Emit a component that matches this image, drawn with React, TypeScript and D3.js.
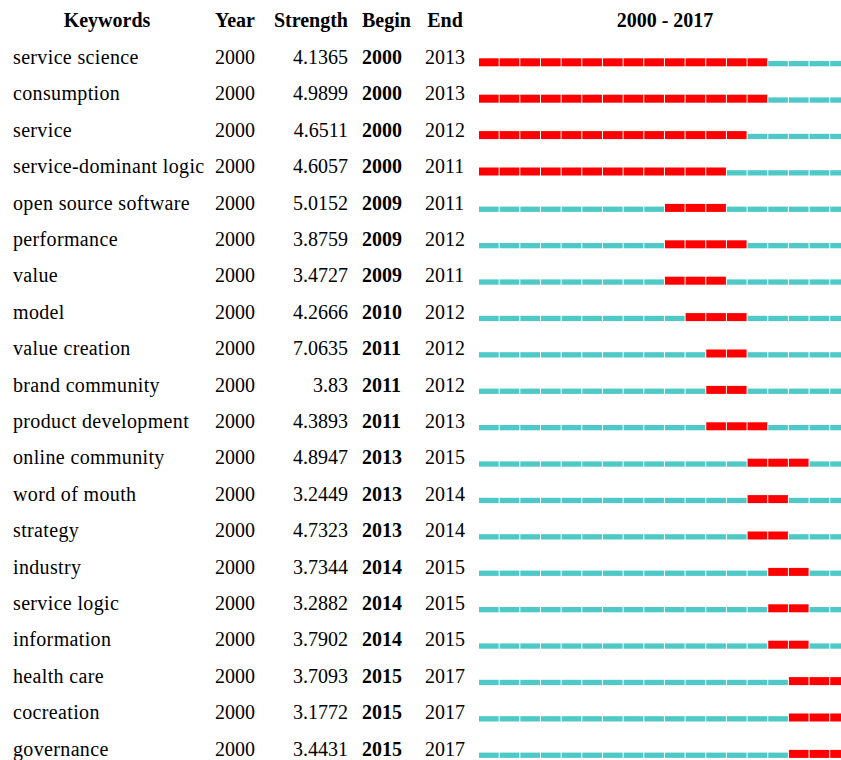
import * as d3 from 'd3';

const keywords = [
  'service science', 'consumption', 'service', 'service-dominant logic',
  'open source software', 'performance', 'value', 'model', 'value creation',
  'brand community', 'product development', 'online community', 'word of mouth',
  'strategy', 'industry', 'service logic', 'information', 'health care',
  'cocreation', 'governance',
];
const years = [
  2000, 2000, 2000, 2000, 2000, 2000, 2000, 2000, 2000, 2000,
  2000, 2000, 2000, 2000, 2000, 2000, 2000, 2000, 2000, 2000,
];
const strengths = [
  '4.1365', '4.9899', '4.6511', '4.6057', '5.0152', '3.8759', '3.4727', '4.2666',
  '7.0635', '3.83', '4.3893', '4.8947', '3.2449', '4.7323', '3.7344', '3.2882',
  '3.7902', '3.7093', '3.1772', '3.4431',
];
const begins = [
  2000, 2000, 2000, 2000, 2009, 2009, 2009, 2010, 2011, 2011,
  2011, 2013, 2013, 2013, 2014, 2014, 2014, 2015, 2015, 2015,
];
const ends = [
  2013, 2013, 2012, 2011, 2011, 2012, 2011, 2012, 2012, 2012,
  2013, 2015, 2014, 2014, 2015, 2015, 2015, 2017, 2017, 2017,
];
const timeline = d3.range(2000, 2018);

const W = 841;
const H = 760;
const FONT = '"Liberation Serif", "Times New Roman", serif';

const App = () => {
  const x = d3.scaleLinear().domain([2000, 2018]).range([478.5, 478.5 + 18 * 20.66]);
  const y = d3.scaleLinear().domain([0, keywords.length - 1]).range([64, 755.6]);

  return (
    <svg
      width={W}
      height={H}
      style={{ position: 'absolute', left: 0, top: 0, background: '#fff' }}
      fontFamily={FONT}
      fontSize={20}
    >
      {/* header */}
      <g fontWeight='bold' fill='#000'>
        <text x={107} y={27} textAnchor='middle'>Keywords</text>
        <text x={215} y={27}>Year</text>
        <text x={348} y={27} textAnchor='end'>Strength</text>
        <text x={362} y={27}>Begin</text>
        <text x={445} y={27} textAnchor='middle'>End</text>
        <text x={665} y={27} textAnchor='middle'>2000 - 2017</text>
      </g>

      {keywords.map((k, i) => {
        const by = y(i);
        return (
          <g key={k}>
            <text x={13} y={by} letterSpacing={0.35}>{k}</text>
            <text x={215} y={by}>{years[i]}</text>
            <text x={348} y={by} textAnchor='end'>{strengths[i]}</text>
            <text x={362} y={by} fontWeight='bold'>{begins[i]}</text>
            <text x={425} y={by}>{ends[i]}</text>
            {timeline.map((yr) => {
              const hot = yr >= begins[i] && yr <= ends[i];
              const h = hot ? 8 : 5.3;
              return (
                <rect
                  key={yr}
                  x={x(yr) + 0.5}
                  y={by + 2.3 - h}
                  width={x(yr + 1) - x(yr) - 1}
                  height={h}
                  fill={hot ? '#ff0000' : '#4ec9c8'}
                />
              );
            })}
          </g>
        );
      })}
    </svg>
  );
};

export default App;
